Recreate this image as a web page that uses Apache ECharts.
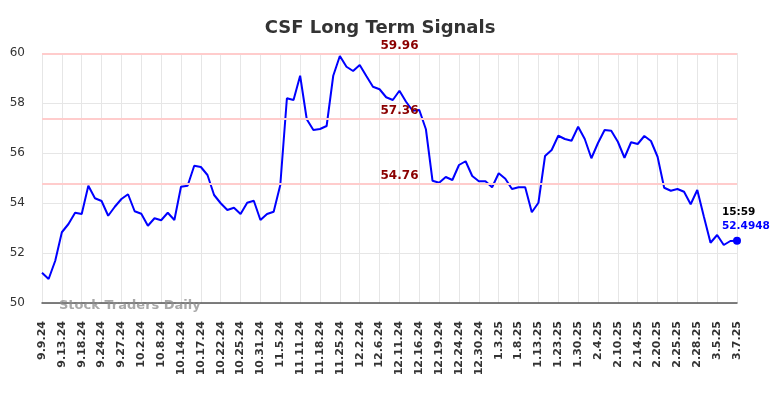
<!DOCTYPE html>
<html>
<head>
<meta charset="utf-8">
<script src="https://cdn.jsdelivr.net/npm/echarts@6/dist/echarts.min.js"></script>
<style>html,body{margin:0;padding:0;background:#fff}#c{width:784px;height:398px}</style>
</head>
<body>
<div id="c"></div>
<script>
const tickLabels = ['9.9.24','9.13.24','9.18.24','9.24.24','9.27.24','10.2.24','10.8.24','10.14.24','10.17.24','10.22.24','10.25.24','10.31.24','11.5.24','11.11.24','11.18.24','11.25.24','12.2.24','12.6.24','12.11.24','12.16.24','12.19.24','12.24.24','12.30.24','1.3.25','1.8.25','1.13.25','1.23.25','1.30.25','2.4.25','2.10.25','2.14.25','2.20.25','2.25.25','2.28.25','3.5.25','3.7.25'];
const values = [
  51.21, 50.96, 51.69, 52.83, 53.16, 53.61, 53.56, 54.69, 54.19, 54.08,
  53.49, 53.85, 54.16, 54.35, 53.67, 53.57, 53.09, 53.39, 53.31, 53.61,
  53.32, 54.65, 54.69, 55.49, 55.44, 55.12, 54.32, 53.99, 53.72, 53.81,
  53.56, 54.01, 54.09, 53.32, 53.56, 53.65, 54.72, 58.19, 58.12, 59.09,
  57.35, 56.92, 56.96, 57.08, 59.09, 59.88, 59.45, 59.28, 59.52, 59.08,
  58.65, 58.55, 58.23, 58.12, 58.49, 58.05, 57.69, 57.72, 56.95, 54.89,
  54.81, 55.04, 54.92, 55.52, 55.67, 55.08, 54.87, 54.87, 54.63, 55.19,
  54.97, 54.56, 54.63, 54.63, 53.63, 54.01, 55.88, 56.12, 56.69, 56.56,
  56.49, 57.05, 56.56, 55.79, 56.40, 56.92, 56.89, 56.45, 55.81, 56.43,
  56.36, 56.68, 56.48, 55.85, 54.61, 54.49, 54.56, 54.45, 53.95, 54.52,
  53.45, 52.41, 52.72, 52.32, 52.48, 52.4948
];
const signalLevels = [59.96, 57.36, 54.76];
const lastTime = '15:59';
const yTicks = { min: 50, max: 60, interval: 2 };

const categories = values.map((_, i) => i % 3 === 0 ? tickLabels[i / 3] : tickLabels[Math.floor(i / 3)] + ' +' + (i % 3));
const seriesData = values.map((v, i) => i === values.length - 1 ? {
  value: v,
  symbol: 'circle',
  symbolSize: 8,
  label: {
    show: true,
    position: 'top',
    align: 'left',
    offset: [-15, 0],
    distance: 3,
    formatter: p => '{t|' + lastTime + '}\n{v|' + p.value + '}',
    rich: {
      t: { color: '#000', fontWeight: 'bold', fontSize: 10.5, fontFamily: 'DejaVu Sans', lineHeight: 14 },
      v: { color: '#0000ff', fontWeight: 'bold', fontSize: 10.5, fontFamily: 'DejaVu Sans', lineHeight: 14 }
    }
  }
} : v);

const chart = echarts.init(document.getElementById('c'), null, { renderer: 'canvas' });
chart.setOption({
  animation: false,
  backgroundColor: '#fff',
  title: [{
    text: 'CSF Long Term Signals',
    left: 375,
    top: 14,
    textAlign: 'center',
    textStyle: { fontFamily: 'DejaVu Sans', fontWeight: 'bold', fontSize: 18, color: '#333' }
  }, {
    text: 'Stock Traders Daily',
    left: 54,
    top: 294,
    textStyle: { fontFamily: 'DejaVu Sans', fontWeight: 'bold', fontSize: 13, color: 'rgba(140,140,140,0.75)' }
  }],
  grid: { left: 42, right: 47, top: 53, bottom: 95, containLabel: false },
  xAxis: {
    type: 'category',
    data: categories,
    boundaryGap: false,
    axisLine: { show: true, lineStyle: { color: '#555', width: 1.5 } },
    axisTick: { show: false },
    axisLabel: {
      interval: 2,
      rotate: 90,
      margin: 18,
      fontFamily: 'DejaVu Sans',
      fontWeight: 'bold',
      fontSize: 11,
      color: '#333',
      formatter: v => v.split(' ')[0]
    },
    splitLine: { show: true, interval: 2, lineStyle: { color: '#e6e6e6', width: 1 } }
  },
  yAxis: {
    type: 'value',
    min: yTicks.min,
    max: yTicks.max,
    interval: yTicks.interval,
    axisLine: { show: false },
    axisTick: { show: false },
    axisLabel: { margin: 17, fontFamily: 'DejaVu Sans', fontSize: 12, color: '#333' },
    splitLine: { show: true, lineStyle: { color: '#e6e6e6', width: 1 } }
  },
  series: [{
    type: 'line',
    data: seriesData,
    symbol: 'none',
    showSymbol: true,
    itemStyle: { color: '#0000ff' },
    lineStyle: { color: '#0000ff', width: 2 },
    label: { show: false },
    z: 3,
    markLine: {
      silent: true,
      symbol: 'none',
      lineStyle: { color: '#ffcccc', width: 2, type: 'solid' },
      label: {
        show: true,
        position: 'insideMiddleTop',
        distance: 2,
        padding: [0, 0, 0, 20],
        fontFamily: 'DejaVu Sans',
        fontWeight: 'bold',
        fontSize: 12,
        color: '#8b0000',
        formatter: p => p.value.toFixed(2)
      },
      data: signalLevels.map(v => ({ yAxis: v }))
    }
  }]
});
</script>
</body>
</html>
